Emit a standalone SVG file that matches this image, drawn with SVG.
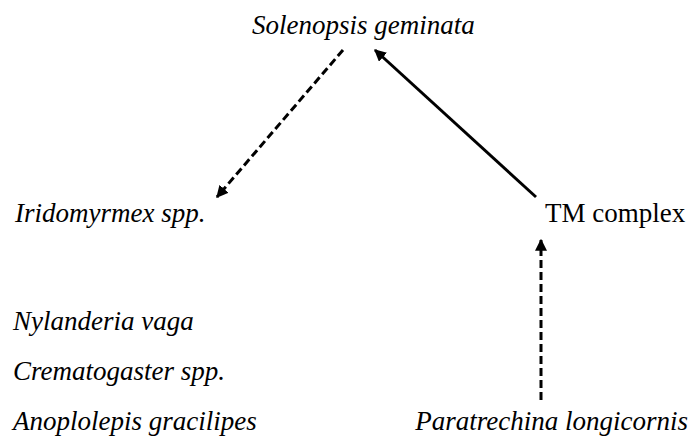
<svg xmlns="http://www.w3.org/2000/svg" width="691" height="438" viewBox="0 0 691 438">
<style>
.c{stroke:#000;stroke-width:3;fill:none}
.d{stroke-dasharray:8 4}
.t{font-family:"Liberation Serif","Times New Roman",serif;font-size:27px;fill:#000}
.i{font-style:italic}
</style>
<defs>
<marker id="ah" viewBox="0 0 10 10" refX="9" refY="5" markerWidth="4" markerHeight="4" orient="auto" markerUnits="strokeWidth">
<path d="M0,0 L10,5 L0,10 Z" fill="#000"/>
</marker>
</defs>
<rect width="691" height="438" fill="#fff"/>
<g id="connectors">
<line class="c d" x1="343" y1="50" x2="217" y2="197" marker-end="url(#ah)"/>
<line class="c" x1="536" y1="197" x2="375" y2="50" marker-end="url(#ah)"/>
<line class="c d" x1="541" y1="400" x2="541" y2="240" marker-end="url(#ah)"/>
</g>
<g id="solenopsis"><text class="t i" x="252" y="34">Solenopsis geminata</text></g>
<g id="iridomyrmex"><text class="t i" x="15" y="222">Iridomyrmex spp.</text></g>
<g id="tm"><text class="t" x="545" y="222">TM complex</text></g>
<g id="nylanderia"><text class="t i" x="13" y="330">Nylanderia vaga</text></g>
<g id="crematogaster"><text class="t i" x="13" y="380">Crematogaster spp.</text></g>
<g id="anoplolepis"><text class="t i" x="13" y="430">Anoplolepis gracilipes</text></g>
<g id="paratrechina"><text class="t i" x="688" y="430" text-anchor="end">Paratrechina longicornis</text></g>
</svg>
